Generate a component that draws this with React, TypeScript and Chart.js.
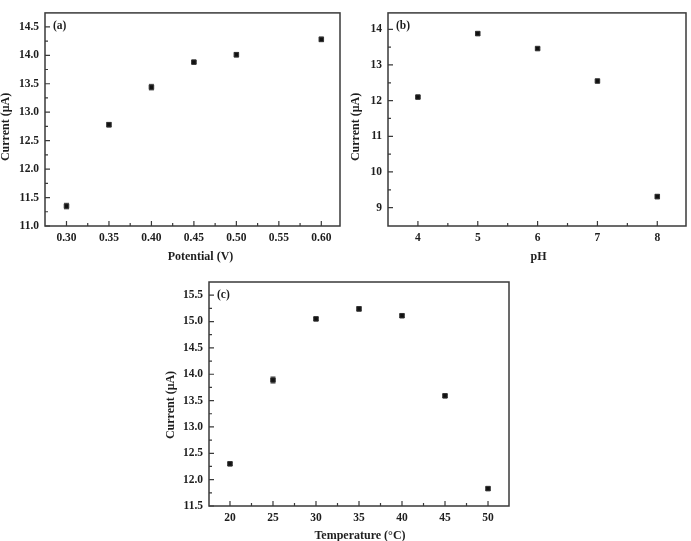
import React, { useEffect, useRef } from 'react';
import { Chart, registerables } from 'chart.js';

Chart.register(...registerables);

const FONT = "'Liberation Serif', 'Times New Roman', serif";
const INK = '#1e1e1e';
const FRAME = '#3a3a3a';

// ---- Panel (a): potential ----
const potentialV = [0.3, 0.35, 0.4, 0.45, 0.5, 0.6];
const currentA = [11.35, 12.78, 13.44, 13.88, 14.01, 14.28];
const errorA = [0.05, 0.04, 0.05, 0.02, 0.04, 0.04];
const xTicksA = [0.3, 0.35, 0.4, 0.45, 0.5, 0.55, 0.6];
const yTicksA = [11.0, 11.5, 12.0, 12.5, 13.0, 13.5, 14.0, 14.5];

// ---- Panel (b): pH ----
const phValues = [4, 5, 6, 7, 8];
const currentB = [12.1, 13.88, 13.46, 12.55, 9.31];
const errorB = [0.03, 0.05, 0.03, 0.03, 0.06];
const xTicksB = [4, 5, 6, 7, 8];
const yTicksB = [9, 10, 11, 12, 13, 14];

// ---- Panel (c): temperature ----
const temperatureC = [20, 25, 30, 35, 40, 45, 50];
const currentC = [12.3, 13.89, 15.05, 15.24, 15.11, 13.59, 11.83];
const errorC = [0.03, 0.06, 0.03, 0.04, 0.03, 0.03, 0.03];
const xTicksC = [20, 25, 30, 35, 40, 45, 50];
const yTicksC = [11.5, 12.0, 12.5, 13.0, 13.5, 14.0, 14.5, 15.0, 15.5];

const decorPlugin = {
  id: 'decor',
  beforeDatasetsDraw(chart: any, _args: any, opts: any) {
    const ctx = chart.ctx;
    const ys = chart.scales.y;
    const xs = chart.scales.x;
    const data = chart.data.datasets[0].data as any[];
    const errs: number[] = opts.errors || [];
    ctx.save();
    ctx.strokeStyle = '#6a6a6a';
    ctx.lineWidth = 1;
    data.forEach((p: any, i: number) => {
      const e = errs[i] || 0;
      const px = xs.getPixelForValue(p.x);
      const y1 = ys.getPixelForValue(p.y + e);
      const y2 = ys.getPixelForValue(p.y - e);
      ctx.beginPath();
      ctx.moveTo(px, y1);
      ctx.lineTo(px, y2);
      ctx.moveTo(px - 2.5, y1);
      ctx.lineTo(px + 2.5, y1);
      ctx.moveTo(px - 2.5, y2);
      ctx.lineTo(px + 2.5, y2);
      ctx.stroke();
    });
    ctx.restore();
  },
  afterDraw(chart: any, _args: any, opts: any) {
    const ctx = chart.ctx;
    const { left, right, top, bottom } = chart.chartArea;
    const xs = chart.scales.x;
    const ys = chart.scales.y;
    ctx.save();
    ctx.strokeStyle = FRAME;
    ctx.lineWidth = 1.5;
    ctx.strokeRect(left, top, right - left, bottom - top);
    ctx.lineWidth = 1.2;
    const drawTicks = (vals: number[], isX: boolean) => {
      const step = vals[1] - vals[0];
      const minors: number[] = [];
      for (let i = -1; i < vals.length; i++) {
        minors.push(vals[0] + (i + 0.5) * step);
      }
      ctx.beginPath();
      vals.forEach((v) => {
        if (isX) {
          const p = xs.getPixelForValue(v);
          ctx.moveTo(p, bottom);
          ctx.lineTo(p, bottom - 5);
        } else {
          const p = ys.getPixelForValue(v);
          ctx.moveTo(left, p);
          ctx.lineTo(left + 5, p);
        }
      });
      minors.forEach((v) => {
        if (isX) {
          const p = xs.getPixelForValue(v);
          if (p <= left + 3 || p >= right - 3) return;
          ctx.moveTo(p, bottom);
          ctx.lineTo(p, bottom - 3);
        } else {
          const p = ys.getPixelForValue(v);
          if (p <= top + 3 || p >= bottom - 3) return;
          ctx.moveTo(left, p);
          ctx.lineTo(left + 3, p);
        }
      });
      ctx.stroke();
    };
    drawTicks(opts.xTicks, true);
    drawTicks(opts.yTicks, false);
    ctx.fillStyle = INK;
    ctx.font = `bold 11.5px ${FONT}`;
    ctx.textBaseline = 'middle';
    ctx.textAlign = 'left';
    ctx.fillText(opts.tag, left + 8, top + 13);
    // axis titles
    ctx.font = `bold 12px ${FONT}`;
    ctx.textAlign = 'center';
    ctx.fillText(opts.xTitle, (left + right) / 2 + opts.xTitleDx, opts.xTitleY);
    ctx.translate(opts.yTitleX, (top + bottom) / 2 + opts.yTitleDy);
    ctx.rotate(-Math.PI / 2);
    ctx.fillText(opts.yTitle, 0, 0);
    ctx.restore();
  },
};

type PanelProps = {
  tag: string;
  xs: number[];
  ys: number[];
  errs: number[];
  xTicks: number[];
  yTicks: number[];
  xMin: number;
  xMax: number;
  yMin: number;
  yMax: number;
  xDec: number;
  yDec: number;
  xTitle: string;
  yTitle: string;
  box: { left: number; top: number; width: number; height: number };
  area: { left: number; top: number; right: number; bottom: number };
  xTitleY: number;
  xTitleDx: number;
  yTitleX: number;
  yTitleDy: number;
};

function Panel(props: PanelProps) {
  const ref = useRef<HTMLCanvasElement | null>(null);
  useEffect(() => {
    if (!ref.current) return;
    const { box, area } = props;
    const tickFont = { family: FONT, size: 11.5, weight: 'bold' as const };
    const chart = new Chart(ref.current, {
      type: 'scatter',
      data: {
        datasets: [
          {
            data: props.xs.map((x, i) => ({ x, y: props.ys[i] })),
            pointStyle: 'rect',
            pointRadius: 3.2,
            pointBackgroundColor: '#111',
            pointBorderColor: '#333',
            pointBorderWidth: 1,
            showLine: false,
          },
        ],
      },
      options: {
        animation: false,
        responsive: false,
        devicePixelRatio: 1,
        layout: {
          padding: { left: 0, top: area.top, right: box.width - area.right, bottom: 0 },
        },
        plugins: {
          legend: { display: false },
          tooltip: { enabled: false },
          decor: {
            errors: props.errs,
            tag: props.tag,
            xTicks: props.xTicks,
            yTicks: props.yTicks,
            xTitle: props.xTitle,
            yTitle: props.yTitle,
            xTitleY: props.xTitleY,
            xTitleDx: props.xTitleDx,
            yTitleX: props.yTitleX,
            yTitleDy: props.yTitleDy,
          },
        } as any,
        scales: {
          x: {
            type: 'linear',
            min: props.xMin,
            max: props.xMax,
            afterBuildTicks: (s: any) => {
              s.ticks = props.xTicks.map((v) => ({ value: v }));
            },
            afterFit: (s: any) => {
              s.height = box.height - area.bottom;
            },
            grid: { display: false, drawTicks: false },
            border: { display: false },
            ticks: {
              callback: (v: any) => Number(v).toFixed(props.xDec),
              font: tickFont,
              color: INK,
              padding: 5,
              maxRotation: 0,
              autoSkip: false,
            },
            title: { display: false },
          },
          y: {
            type: 'linear',
            min: props.yMin,
            max: props.yMax,
            afterBuildTicks: (s: any) => {
              s.ticks = props.yTicks.map((v) => ({ value: v }));
            },
            afterFit: (s: any) => {
              s.width = area.left;
            },
            grid: { display: false, drawTicks: false },
            border: { display: false },
            ticks: {
              callback: (v: any) => Number(v).toFixed(props.yDec),
              font: tickFont,
              color: INK,
              padding: 6,
              autoSkip: false,
            },
            title: { display: false },
          },
        },
      },
      plugins: [decorPlugin as any],
    });
    return () => chart.destroy();
  }, []);
  const { box } = props;
  return (
    <canvas
      ref={ref}
      width={box.width}
      height={box.height}
      style={{ position: 'absolute', left: box.left, top: box.top, width: box.width, height: box.height }}
    />
  );
}

export default function App() {
  return (
    <div style={{ position: 'fixed', left: 0, top: 0, width: 691, height: 541, background: '#fff' }}>
      <Panel
        tag="(a)"
        xs={potentialV}
        ys={currentA}
        errs={errorA}
        xTicks={xTicksA}
        yTicks={yTicksA}
        xMin={0.2747}
        xMax={0.622}
        yMin={11.0}
        yMax={14.745}
        xDec={2}
        yDec={1}
        xTitle="Potential (V)"
        yTitle="Current (μA)"
        box={{ left: 0, top: 0, width: 345, height: 270 }}
        area={{ left: 45, top: 2, right: 343, bottom: 226 }}
        xTitleY={257}
        xTitleDx={8}
        yTitleX={6}
        yTitleDy={7.5}
      />
      <Panel
        tag="(b)"
        xs={phValues}
        ys={currentB}
        errs={errorB}
        xTicks={xTicksB}
        yTicks={yTicksB}
        xMin={3.5}
        xMax={8.48}
        yMin={8.485}
        yMax={14.46}
        xDec={0}
        yDec={0}
        xTitle="pH"
        yTitle="Current (μA)"
        box={{ left: 345, top: 0, width: 346, height: 270 }}
        area={{ left: 43, top: 2, right: 344, bottom: 226 }}
        xTitleY={257}
        xTitleDx={1.5}
        yTitleX={11}
        yTitleDy={7.5}
      />
      <Panel
        tag="(c)"
        xs={temperatureC}
        ys={currentC}
        errs={errorC}
        xTicks={xTicksC}
        yTicks={yTicksC}
        xMin={17.56}
        xMax={52.44}
        yMin={11.5}
        yMax={15.75}
        xDec={0}
        yDec={1}
        xTitle="Temperature (°C)"
        yTitle="Current (μA)"
        box={{ left: 160, top: 260, width: 360, height: 281 }}
        area={{ left: 49, top: 22, right: 349, bottom: 246 }}
        xTitleY={276}
        xTitleDx={1}
        yTitleX={10.5}
        yTitleDy={11}
      />
    </div>
  );
}
